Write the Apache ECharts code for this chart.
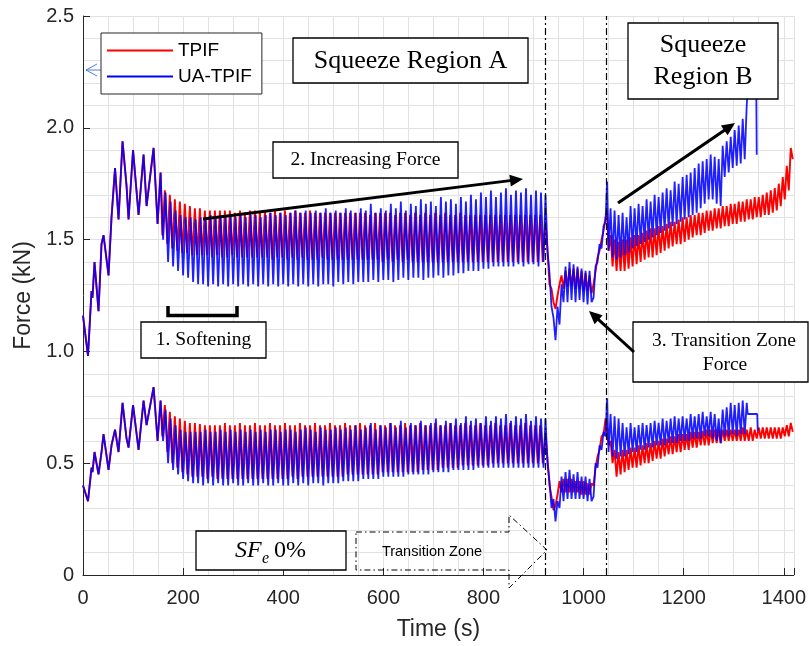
<!DOCTYPE html>
<html>
<head>
<meta charset="utf-8">
<script src="https://cdn.jsdelivr.net/npm/echarts@6/dist/echarts.min.js"></script>
<style>html,body{margin:0;padding:0;background:#fff}#c{width:809px;height:646px}</style>
</head>
<body>
<div id="c"></div>
<script>
// ---------------- data (time in s, force in kN) ----------------
// start-up section, identical for both runs
const tStart = [0,10,17,19,23,31,37,41,51,57,64,71,79,87,91,100,111,121,127,141,149,155];
const hiStart = [1.16,0.98,1.27,1.24,1.40,1.18,1.48,1.52,1.34,1.60,1.82,1.59,1.94,1.74,1.59,1.90,1.61,1.88,1.65,1.91,1.57,1.80];
const loStart = [0.40,0.33,0.48,0.46,0.55,0.45,0.55,0.63,0.47,0.58,0.65,0.55,0.77,0.61,0.57,0.76,0.56,0.78,0.67,0.84,0.60,0.78];

// squeeze region A turning points
const tA = [160,165,170,175,180,185,190,195,200,205,
210,215,220,225,230,235,240,245,250,255,
260,265,270,275,280,285,290,295,300,305,
310,315,320,325,330,335,340,345,350,355,
360,365,370,375,380,385,390,395,400,405,
410,415,420,425,430,435,440,445,450,455,
460,465,470,475,480,485,490,495,500,505,
510,515,520,525,530,535,540,545,550,555,
560,565,570,575,580,585,590,595,600,605,
610,615,620,625,630,635,640,645,650,655,
660,665,670,675,680,685,690,695,700,705,
710,715,720,725,730,735,740,745,750,755,
760,765,770,775,780,785,790,795,800,805,
810,815,820,825,830,835,840,845,850,855,
860,865,870,875,880,885,890,895,900,905,
910,915,920];
// TPIF turning points lead UA-TPIF slightly in region A (seconds)
const tpifPhaseShiftA = -1.5;
const tpifHiA = [1.52,1.72,1.48,1.70,1.46,1.68,1.45,1.67,1.44,1.66,
1.44,1.65,1.43,1.64,1.43,1.64,1.43,1.63,1.43,1.63,
1.42,1.63,1.43,1.63,1.42,1.63,1.42,1.63,1.43,1.62,
1.42,1.63,1.42,1.62,1.42,1.63,1.42,1.63,1.42,1.62,
1.42,1.63,1.42,1.62,1.41,1.63,1.42,1.62,1.42,1.63,
1.41,1.62,1.42,1.63,1.41,1.62,1.42,1.62,1.41,1.63,
1.41,1.62,1.41,1.62,1.42,1.62,1.41,1.62,1.41,1.62,
1.41,1.62,1.41,1.62,1.41,1.62,1.41,1.62,1.41,1.62,
1.41,1.62,1.41,1.61,1.41,1.62,1.41,1.62,1.40,1.62,
1.41,1.62,1.40,1.61,1.41,1.62,1.40,1.62,1.41,1.61,
1.40,1.62,1.40,1.61,1.40,1.62,1.40,1.61,1.40,1.62,
1.40,1.61,1.40,1.62,1.40,1.61,1.40,1.61,1.40,1.62,
1.40,1.61,1.40,1.61,1.40,1.61,1.40,1.61,1.40,1.61,
1.40,1.61,1.40,1.61,1.40,1.61,1.40,1.61,1.40,1.61,
1.40,1.61,1.40,1.61,1.40,1.61,1.40,1.61,1.40,1.61,
1.40,1.61,1.40];
const uaHiA = [1.50,1.71,1.40,1.67,1.38,1.63,1.36,1.61,1.34,1.60,
1.33,1.60,1.31,1.59,1.30,1.60,1.30,1.60,1.29,1.61,
1.30,1.60,1.29,1.61,1.30,1.60,1.29,1.61,1.30,1.60,
1.29,1.61,1.30,1.60,1.29,1.61,1.30,1.61,1.29,1.60,
1.30,1.61,1.29,1.62,1.30,1.61,1.29,1.62,1.30,1.61,
1.29,1.62,1.30,1.63,1.29,1.62,1.30,1.63,1.29,1.62,
1.30,1.63,1.29,1.62,1.30,1.64,1.30,1.62,1.29,1.63,
1.31,1.62,1.30,1.64,1.31,1.63,1.30,1.62,1.31,1.64,
1.31,1.63,1.31,1.66,1.32,1.62,1.31,1.64,1.32,1.63,
1.32,1.66,1.31,1.64,1.32,1.67,1.33,1.63,1.32,1.66,
1.33,1.65,1.33,1.68,1.32,1.66,1.33,1.67,1.33,1.65,
1.34,1.69,1.33,1.67,1.34,1.68,1.34,1.66,1.35,1.69,
1.35,1.67,1.36,1.70,1.36,1.68,1.36,1.71,1.37,1.69,
1.37,1.72,1.38,1.69,1.38,1.71,1.38,1.73,1.38,1.70,
1.38,1.72,1.39,1.71,1.38,1.73,1.39,1.70,1.39,1.72,
1.38,1.71,1.40];
const tpifLoA = [0.62,0.76,0.55,0.73,0.50,0.71,0.48,0.70,0.46,0.69,
0.45,0.68,0.44,0.68,0.44,0.675,0.44,0.67,0.43,0.67,
0.44,0.67,0.43,0.67,0.43,0.68,0.43,0.67,0.43,0.67,
0.43,0.68,0.43,0.67,0.43,0.67,0.43,0.68,0.43,0.67,
0.43,0.67,0.43,0.68,0.43,0.67,0.43,0.67,0.43,0.68,
0.43,0.67,0.44,0.67,0.43,0.68,0.44,0.67,0.44,0.67,
0.44,0.68,0.44,0.67,0.44,0.67,0.44,0.68,0.44,0.67,
0.44,0.67,0.44,0.68,0.45,0.67,0.45,0.67,0.45,0.68,
0.45,0.67,0.45,0.67,0.45,0.68,0.45,0.67,0.46,0.67,
0.46,0.68,0.46,0.67,0.46,0.67,0.46,0.68,0.46,0.67,
0.46,0.67,0.46,0.68,0.47,0.67,0.47,0.67,0.47,0.68,
0.47,0.67,0.48,0.67,0.48,0.68,0.48,0.67,0.48,0.67,
0.49,0.68,0.49,0.67,0.49,0.67,0.49,0.68,0.49,0.67,
0.49,0.67,0.50,0.68,0.50,0.67,0.50,0.67,0.50,0.68,
0.50,0.67,0.50,0.67,0.50,0.68,0.50,0.67,0.50,0.67,
0.50,0.67,0.50];
const uaLoA = [0.60,0.74,0.50,0.70,0.47,0.67,0.45,0.65,0.43,0.64,
0.42,0.64,0.41,0.64,0.41,0.64,0.40,0.65,0.41,0.64,
0.40,0.64,0.41,0.65,0.40,0.64,0.40,0.65,0.41,0.64,
0.40,0.65,0.40,0.64,0.41,0.65,0.40,0.64,0.40,0.65,
0.41,0.64,0.40,0.65,0.40,0.65,0.41,0.64,0.40,0.65,
0.40,0.65,0.41,0.64,0.40,0.65,0.41,0.66,0.40,0.65,
0.41,0.64,0.41,0.66,0.40,0.65,0.41,0.65,0.41,0.66,
0.41,0.65,0.42,0.66,0.42,0.65,0.42,0.67,0.42,0.65,
0.43,0.66,0.43,0.68,0.43,0.65,0.43,0.67,0.44,0.66,
0.44,0.68,0.44,0.66,0.44,0.69,0.44,0.66,0.45,0.68,
0.45,0.67,0.45,0.69,0.45,0.67,0.45,0.68,0.46,0.70,
0.46,0.67,0.46,0.69,0.46,0.68,0.47,0.70,0.47,0.68,
0.47,0.71,0.47,0.69,0.47,0.70,0.48,0.68,0.48,0.71,
0.48,0.69,0.48,0.71,0.48,0.70,0.48,0.72,0.48,0.69,
0.48,0.71,0.48,0.70,0.48,0.72,0.48,0.69,0.48,0.71,
0.48,0.70,0.48];

// transition zone turning points
const tT = [924,928,932,936,940,944,948,952,956,960,964,968,972,976,980,984,988,992,996,1000,1004,1008,1012,1016,1020,1024,1028,1032,1036,1040,1044,1047];
const tpifHiT = [1.58,1.45,1.30,1.28,1.22,1.19,1.25,1.30,1.34,1.28,1.36,1.29,1.37,1.29,1.37,1.28,1.37,1.28,1.36,1.27,1.35,1.27,1.34,1.26,1.30,1.36,1.42,1.45,1.50,1.54,1.60,1.63];
const uaHiT = [1.70,1.45,1.35,1.20,1.15,1.05,1.20,1.12,1.30,1.22,1.38,1.22,1.40,1.23,1.39,1.22,1.38,1.23,1.37,1.22,1.36,1.21,1.36,1.22,1.24,1.38,1.40,1.48,1.46,1.56,1.58,1.76];
const tpifLoT = [0.62,0.52,0.40,0.35,0.29,0.31,0.36,0.42,0.37,0.43,0.37,0.43,0.37,0.43,0.37,0.42,0.37,0.42,0.36,0.42,0.36,0.41,0.36,0.41,0.40,0.48,0.53,0.56,0.62,0.63,0.70,0.70];
const uaLoT = [0.70,0.50,0.42,0.30,0.34,0.24,0.33,0.30,0.44,0.33,0.46,0.34,0.47,0.34,0.45,0.34,0.46,0.34,0.44,0.34,0.44,0.33,0.43,0.33,0.35,0.50,0.48,0.58,0.56,0.64,0.62,0.79];

// squeeze region B turning points
const tB = [1050,1054,1058,1062,1066,1070,1074,1078,1082,1086,
1090,1094,1098,1102,1106,1110,1114,1118,1122,1126,
1130,1134,1138,1142,1146,1150,1154,1158,1162,1166,
1170,1174,1178,1182,1186,1190,1194,1198,1202,1206,
1210,1214,1218,1222,1226,1230,1234,1238,1242,1246,
1250,1254,1258,1262,1266,1270,1274,1278,1282,1286,
1290,1294,1298,1302,1306,1310,1314,1318,1322,1326,
1330,1334,1338,1342,1346,1350,1354,1358,1362,1366,
1370,1374,1378,1382,1386,1390,1394,1398,1402,1406,
1410,1414,1418];
const tpifHiB = [1.45,1.52,1.38,1.50,1.36,1.49,1.36,1.50,1.36,1.50,
1.37,1.51,1.38,1.52,1.39,1.52,1.40,1.53,1.41,1.54,
1.42,1.55,1.42,1.55,1.43,1.56,1.44,1.56,1.45,1.57,
1.46,1.58,1.47,1.58,1.48,1.59,1.48,1.60,1.49,1.60,
1.50,1.61,1.51,1.61,1.52,1.62,1.52,1.62,1.53,1.63,
1.54,1.63,1.54,1.64,1.55,1.64,1.55,1.65,1.56,1.65,
1.56,1.66,1.57,1.66,1.57,1.67,1.58,1.67,1.58,1.68,
1.59,1.68,1.59,1.69,1.60,1.69,1.60,1.70,1.61,1.71,
1.61,1.72,1.62,1.73,1.63,1.75,1.65,1.78,1.68,1.83,
1.72,1.91,1.86];
const uaHiB = [1.45,1.64,1.42,1.63,1.41,1.61,1.42,1.62,1.43,1.60,
1.44,1.65,1.46,1.64,1.47,1.66,1.48,1.65,1.49,1.68,
1.50,1.67,1.51,1.70,1.52,1.69,1.53,1.71,1.54,1.73,
1.55,1.72,1.56,1.76,1.57,1.75,1.58,1.78,1.59,1.79,
1.60,1.80,1.61,1.82,1.62,1.84,1.64,1.85,1.66,1.86,
1.68,1.88,1.68,1.87,1.66,1.86,1.65,1.92,1.78,1.94,
1.80,1.96,1.82,1.99,1.83,2.01,1.84,2.04,1.86,2.10];
const uaHiEndT = [1329,1345,1346];
const uaHiEndV = [2.20,2.20,1.88];
const tpifLoB = [0.58,0.60,0.50,0.56,0.44,0.55,0.45,0.56,0.46,0.56,
0.47,0.57,0.48,0.57,0.48,0.58,0.49,0.58,0.50,0.59,
0.50,0.59,0.51,0.60,0.52,0.60,0.52,0.61,0.53,0.61,
0.54,0.62,0.54,0.62,0.55,0.63,0.55,0.63,0.56,0.63,
0.56,0.64,0.57,0.64,0.57,0.64,0.58,0.645,0.58,0.65,
0.58,0.65,0.59,0.65,0.59,0.65,0.59,0.65,0.60,0.65,
0.60,0.65,0.60,0.65,0.60,0.65,0.60,0.66,0.60,0.65,
0.60,0.66,0.60,0.65,0.61,0.66,0.61,0.66,0.61,0.66,
0.61,0.66,0.61,0.66,0.61,0.66,0.61,0.66,0.62,0.67,
0.62,0.68,0.64];
const uaLoB = [0.55,0.72,0.53,0.71,0.52,0.70,0.53,0.68,0.53,0.66,
0.54,0.68,0.55,0.66,0.55,0.67,0.56,0.68,0.56,0.67,
0.57,0.68,0.57,0.69,0.58,0.68,0.58,0.70,0.58,0.69,
0.59,0.70,0.59,0.71,0.59,0.70,0.60,0.71,0.60,0.70,
0.60,0.72,0.61,0.71,0.61,0.72,0.61,0.73,0.62,0.71,
0.62,0.73,0.61,0.72,0.60,0.70,0.59,0.74,0.62,0.75,
0.62,0.77,0.63,0.76,0.62,0.77,0.63,0.78,0.63,0.77];
const uaLoEndT = [1328,1347,1348];
const uaLoEndV = [0.72,0.72,0.645];

const regionLines = [923, 1045];
const xTicks = [0,200,400,600,800,1000,1200,1400];
const yTicks = ['0','0.5','1.0','1.5','2.0','2.5'];

// ---------------- build ----------------
function pairs(ts, vs, shift){ const s=shift||0, out=[]; for(let i=0;i<vs.length;i++) out.push([ts[i]+s, vs[i]]); return out; }
const tpifHi = [].concat(pairs(tStart,hiStart), pairs(tA,tpifHiA,tpifPhaseShiftA), pairs(tT,tpifHiT), pairs(tB,tpifHiB));
const tpifLo = [].concat(pairs(tStart,loStart), pairs(tA,tpifLoA,tpifPhaseShiftA), pairs(tT,tpifLoT), pairs(tB,tpifLoB));
const uaHi = [].concat(pairs(tStart,hiStart), pairs(tA,uaHiA), pairs(tT,uaHiT), pairs(tB,uaHiB), pairs(uaHiEndT,uaHiEndV));
const uaLo = [].concat(pairs(tStart,loStart), pairs(tA,uaLoA), pairs(tT,uaLoT), pairs(tB,uaLoB), pairs(uaLoEndT,uaLoEndV));

const RED='#ff0000', BLUE='#0000ff', AX='#262626';
const SANS='Liberation Sans, Arial, sans-serif', SERIF='Liberation Serif, Times New Roman, serif';

function lineSeries(name,color,data,width,opacity,extra){
  return Object.assign({name, type:'line', data, showSymbol:false, symbol:'none', color,
    lineStyle:{color, width, opacity}, animation:false, silent:true, z:2}, extra||{});
}

function arrow(x1,y1,x2,y2,w,hl,hw){
  const a=Math.atan2(y2-y1,x2-x1), c=Math.cos(a), s=Math.sin(a);
  const bx=x2-hl*c, by=y2-hl*s;
  return [
    {type:'line', z:120, shape:{x1:x1,y1:y1,x2:bx+2*c,y2:by+2*s}, style:{stroke:'#000', lineWidth:w}},
    {type:'polygon', z:120, shape:{points:[[x2,y2],[bx+hw*s,by-hw*c],[bx-hw*s,by+hw*c]]}, style:{fill:'#000'}}
  ];
}
function box(x,y,w,h){ return {type:'rect', z:110, shape:{x,y,width:w,height:h}, style:{fill:'#fff', stroke:'#000', lineWidth:1.3}}; }
function label(x,y,text,size,font,extra){ return {type:'text', z:115, x, y, style:Object.assign({text, fontSize:size, fontFamily:font||SERIF, fill:'#000', align:'center', verticalAlign:'middle'}, extra||{})}; }

const graphics = [].concat(
  [box(293,38,235,45), label(410.5,61,'Squeeze Region A',26)],
  [box(628,23,150,76), label(703,45,'Squeeze',26), label(703,77,'Region B',26)],
  [box(273,142,185,36), label(365.5,160,'2. Increasing Force',19.5)],
  [box(141,322,125,36), label(203.5,340,'1. Softening',19.5)],
  [box(633,322,175,60), label(724,341,'3. Transition Zone',19.5), label(725,365,'Force',19.5)],
  arrow(203,219,523,179,3,13,6),
  arrow(634,352,589,311,3,13,6),
  arrow(618,203,735,123,3.2,13,6),
  [{type:'polyline', z:120, shape:{points:[[168,306],[168,315.5],[237,315.5],[237,306]]}, style:{stroke:'#000', lineWidth:3.5, fill:null}}],
  [box(196,531,150,39),
   label(235,551,'SF',24,SERIF,{align:'left', fontStyle:'italic'}),
   label(262,559,'e',16,SERIF,{align:'left', fontStyle:'italic'}),
   label(274,551,'0%',24,SERIF,{align:'left'})],
  [{type:'polygon', z:105, shape:{points:[[356,532],[509,532],[509,515],[547,550],[509,588],[509,570],[356,570]]}, style:{fill:null, stroke:'#000', lineWidth:1, lineDash:[6,3,1.5,3]}},
   label(432,552,'Transition Zone',14.5,SANS)],
  [{type:'polyline', z:120, shape:{points:[[97,64],[86,70],[97,76]]}, style:{stroke:'#4f7fe0', lineWidth:1, fill:null}},
   {type:'line', z:120, shape:{x1:86,y1:70,x2:101,y2:70}, style:{stroke:'#4f7fe0', lineWidth:1}}]
);

const chart = echarts.init(document.getElementById('c'), null, {renderer:'canvas'});
chart.setOption({
  backgroundColor:'#fff',
  animation:false,
  grid:{left:83, right:14, top:16, bottom:69, containLabel:false},
  legend:{
    data:['TPIF','UA-TPIF'], orient:'vertical', left:101, top:33, selectedMode:false,
    backgroundColor:'#fff', borderColor:AX, borderWidth:1, padding:[8,10,8,6], itemGap:7,
    itemWidth:66, itemHeight:2, icon:'rect', z:130,
    textStyle:{fontFamily:SANS, fontSize:19, color:'#000'}
  },
  xAxis:[
    {type:'value', min:0, max:1420, interval:200, position:'bottom',
     name:'Time (s)', nameLocation:'middle', nameGap:43,
     nameTextStyle:{fontFamily:SANS, fontSize:23, color:AX},
     axisLine:{onZero:false, lineStyle:{color:AX, width:1}},
     axisTick:{inside:true, length:7, lineStyle:{color:AX}},
     axisLabel:{margin:13, fontFamily:SANS, fontSize:20, color:AX,
       formatter:v => xTicks.indexOf(v) >= 0 ? String(v) : ''},
     splitLine:{show:false}},
    {type:'value', min:0, max:1420, interval:50, position:'top',
     axisLine:{show:false}, axisTick:{show:false}, axisLabel:{show:false},
     splitLine:{show:true, lineStyle:{color:'#e2e2e2', width:1}}}
  ],
  yAxis:{type:'value', min:0, max:2.5, interval:0.5,
    name:'Force (kN)', nameLocation:'middle', nameGap:47,
    nameTextStyle:{fontFamily:SANS, fontSize:23, color:AX},
    axisLine:{show:true, onZero:false, lineStyle:{color:AX, width:1}},
    axisTick:{show:true, inside:true, length:7, lineStyle:{color:AX}},
    axisLabel:{margin:9, fontFamily:SANS, fontSize:20, color:AX,
      formatter:v => yTicks[Math.round(v/0.5)]},
    splitLine:{show:true, lineStyle:{color:'#e2e2e2', width:1}},
    minorTick:{show:false, splitNumber:5},
    minorSplitLine:{show:true, lineStyle:{color:'#e2e2e2', width:1}}},
  series:[
    lineSeries('TPIF',RED,tpifHi,1.9,1),
    lineSeries('TPIF',RED,tpifLo,1.9,1),
    lineSeries('UA-TPIF',BLUE,uaHi,1.8,0.88,{markLine:{silent:true, symbol:'none', label:{show:false},
      lineStyle:{color:'#000', width:1.2, type:[7,3,2,3], opacity:1},
      data:regionLines.map(x => ({xAxis:x}))}}),
    lineSeries('UA-TPIF',BLUE,uaLo,1.8,0.88)
  ],
  graphic:{elements:graphics}
});
</script>
</body>
</html>
